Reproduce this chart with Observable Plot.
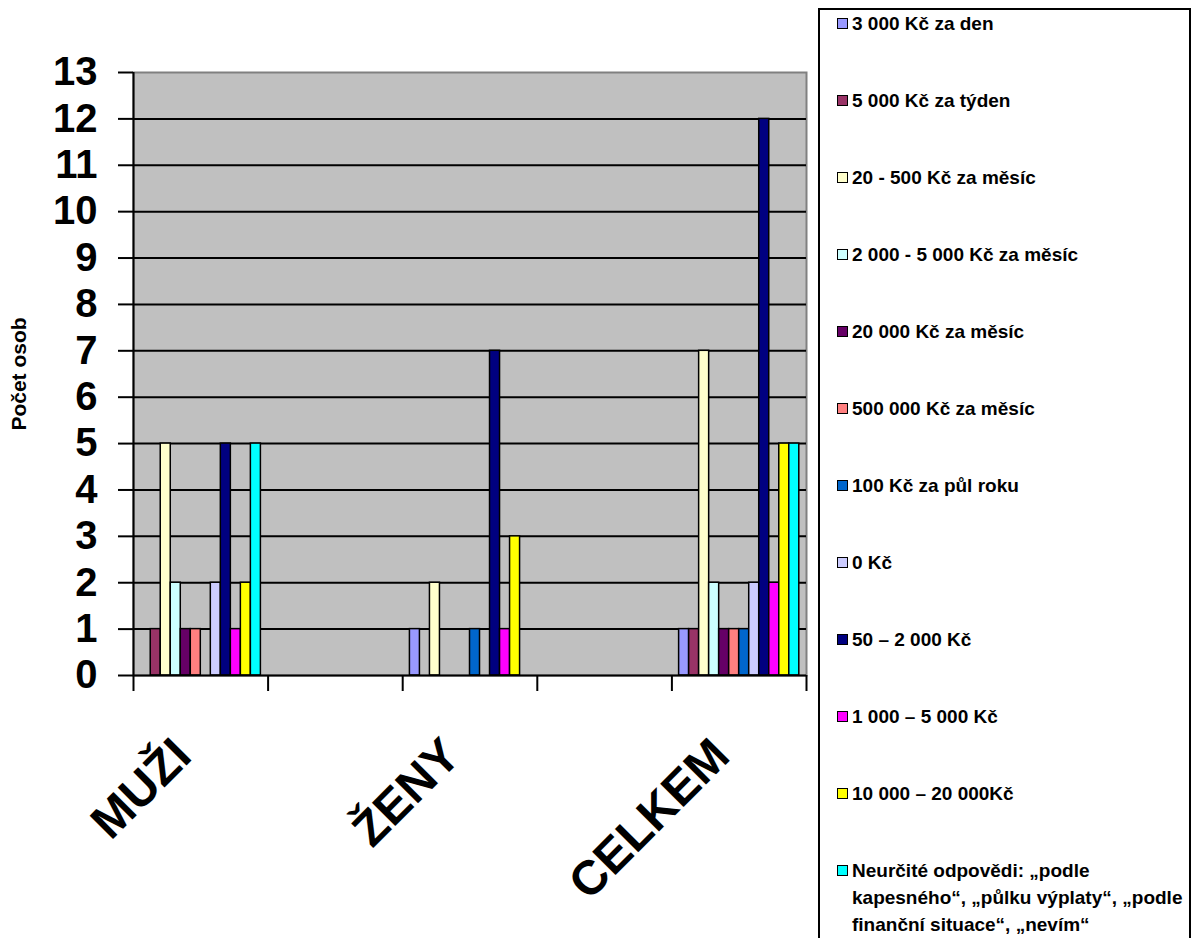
<!DOCTYPE html>
<html>
<head>
<meta charset="utf-8">
<script src="https://cdn.jsdelivr.net/npm/d3@7"></script>
<script src="https://cdn.jsdelivr.net/npm/@observablehq/plot@0.6"></script>
<style>
  html, body { margin: 0; padding: 0; background: #fff; }
  #wrap { position: relative; width: 1197px; height: 938px; overflow: hidden; font-family: "Liberation Sans", Arial, sans-serif; }
  #legend { position: absolute; left: 818px; top: 8px; width: 373px; height: 960px; border: 2px solid #000; box-sizing: border-box; background: #fff; }
  .item { display: flex; align-items: flex-start; height: 77px; font-weight: bold; font-size: 19px; line-height: 27px; white-space: nowrap; }
  .sw { width: 11px; height: 11px; border: 1.5px solid #000; box-sizing: border-box; margin: 8px 4px 0 17px; flex: none; }
</style>
</head>
<body>
<div id="wrap"><div id="chart"></div><div id="legend"></div></div>
<script>
const categorySlots = ["MUŽI", "", "ŽENY", "", "CELKEM"];
const categories = ["MUŽI", "ŽENY", "CELKEM"];
const seriesNames = [
  "3 000 Kč za den",
  "5 000 Kč za týden",
  "20 - 500 Kč za měsíc",
  "2 000 - 5 000 Kč za měsíc",
  "20 000 Kč za měsíc",
  "500 000 Kč za měsíc",
  "100 Kč za půl roku",
  "0 Kč",
  "50 – 2 000 Kč",
  "1 000 – 5 000 Kč",
  "10 000 – 20 000Kč",
  "Neurčité odpovědi: „podle\nkapesného“, „půlku výplaty“, „podle\nfinanční situace“, „nevím“"
];
const seriesColors = ["#9999FF", "#993366", "#FFFFCC", "#CCFFFF", "#660066", "#FF8080", "#0066CC", "#CCCCFF", "#000080", "#FF00FF", "#FFFF00", "#00FFFF"];
const muzi   = [0, 1, 5, 2, 1, 1, 0, 2, 5, 1, 2, 5];
const zeny   = [1, 0, 2, 0, 0, 0, 1, 0, 7, 1, 3, 0];
const celkem = [1, 1, 7, 2, 1, 1, 1, 2, 12, 2, 5, 5];
const yTicks = [0, 1, 2, 3, 4, 5, 6, 7, 8, 9, 10, 11, 12, 13];
const yTitle = "Počet osob";

const valuesByCategory = {"MUŽI": muzi, "ŽENY": zeny, "CELKEM": celkem};
const band = d3.scaleBand().domain(seriesNames).range([0, 1]).paddingInner(0).paddingOuter(0.72);
const rows = [];
for (const c of categories) {
  const slot = categorySlots.indexOf(c);
  valuesByCategory[c].forEach((v, i) => {
    const s = seriesNames[i];
    rows.push({category: c, series: s, value: v, x1: slot + band(s), x2: slot + band(s) + band.bandwidth()});
  });
}
const slotTicks = categorySlots.map((_, i) => i).concat([categorySlots.length]);
const labelTicks = categorySlots.map((c, i) => c ? i + 0.5 : null).filter(d => d !== null);

const chart = Plot.plot({
  width: 818,
  height: 938,
  marginLeft: 133,
  marginRight: 12,
  marginTop: 72,
  marginBottom: 263,
  style: {fontFamily: "'Liberation Sans', Arial, sans-serif", fontWeight: "bold", color: "#000", background: "transparent", overflow: "visible"},
  x: {type: "linear", domain: [0, categorySlots.length], axis: null},
  y: {domain: [0, 13], axis: null},
  color: {domain: seriesNames, range: seriesColors},
  marks: [
    Plot.frame({fill: "#C0C0C0", stroke: "#808080", strokeWidth: 2}),
    Plot.ruleY(yTicks.filter(t => t > 0 && t < 13), {stroke: "#000", strokeWidth: 2}),
    Plot.rectY(rows.filter(d => d.value > 0), {x1: "x1", x2: "x2", y: "value", fill: "series", stroke: "#000", strokeWidth: 1.5}),
    Plot.ruleX([0], {stroke: "#000", strokeWidth: 2}),
    Plot.ruleY([0], {stroke: "#000", strokeWidth: 2}),
    Plot.axisY({ticks: yTicks, tickSize: 15, tickPadding: 21, tickFormat: d => String(d), fontSize: 40, fontWeight: "bold", strokeWidth: 2, label: null, ariaLabel: "ytick"}),
    Plot.axisY({ticks: [], tickSize: 0, label: yTitle, labelAnchor: "center", labelArrow: "none", labelOffset: 122, fontSize: 21, fontWeight: "bold"}),
    Plot.axisX({ticks: slotTicks, tickSize: 16, tickFormat: () => "", strokeWidth: 2, label: null}),
    Plot.axisX({ticks: labelTicks, tickSize: 0, tickPadding: 72, tickRotate: -45, tickFormat: d => categorySlots[Math.floor(d)], fontSize: 48, fontWeight: "bold", dx: -18, label: null})
  ]
});
// stretch the y tick numbers vertically, as in the original chart
chart.querySelectorAll('g[aria-label="y-axis tick label"] text').forEach(t => {
  t.setAttribute("transform", (t.getAttribute("transform") || "") + " scale(1.08,1.28)");
  t.setAttribute("y", "0.25em");
});
document.getElementById("chart").appendChild(chart);

const legend = document.getElementById("legend");
seriesNames.forEach((name, i) => {
  const item = document.createElement("div");
  item.className = "item";
  const sw = document.createElement("div");
  sw.className = "sw";
  sw.style.background = seriesColors[i];
  const tx = document.createElement("div");
  name.split("\n").forEach((line, j) => {
    if (j) tx.appendChild(document.createElement("br"));
    tx.appendChild(document.createTextNode(line));
  });
  item.appendChild(sw);
  item.appendChild(tx);
  legend.appendChild(item);
});
</script>
</body>
</html>
